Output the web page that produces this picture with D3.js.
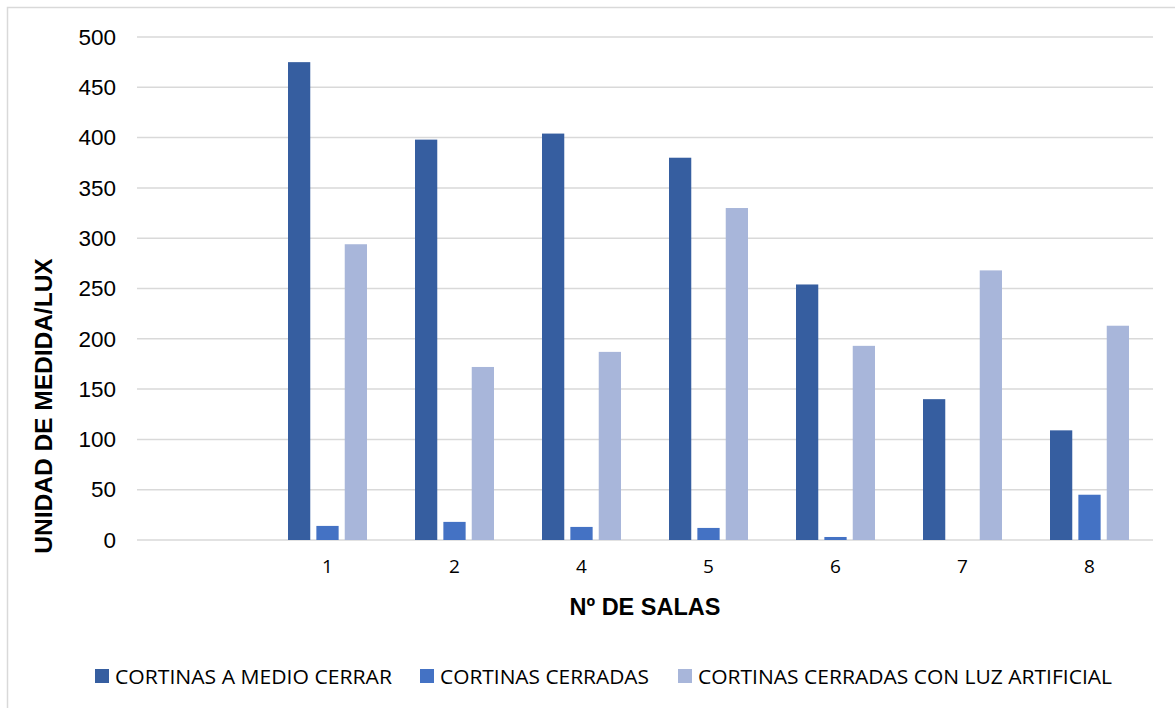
<!DOCTYPE html>
<html>
<head>
    <meta charset="utf-8">
    <title>Unidad de medida / lux por sala</title>
    <style>
        body {
            margin: 0;
            background: #fff;
        }
        svg text {
            fill: #000;
        }
    </style>
</head>
<body>
    <div id="chart"></div>

    <script src="https://d3js.org/d3.v7.min.js"></script>
    <script>
    // Chart data
    const salas = ["", "1", "2", "4", "5", "6", "7", "8"];
    const medioCerrar = [0, 475, 398, 404, 380, 254, 140, 109];
    const cerradas = [0, 14, 18, 13, 12, 3, 0, 45];
    const conLuz = [0, 294, 172, 187, 330, 193, 268, 213];
    const seriesNames = ["CORTINAS A MEDIO CERRAR", "CORTINAS CERRADAS", "CORTINAS CERRADAS CON LUZ ARTIFICIAL"];
    const yTicks = [0, 50, 100, 150, 200, 250, 300, 350, 400, 450, 500];

    const colors = ["#365ea0", "#4472c4", "#a8b6da"];
    const values = [medioCerrar, cerradas, conLuz];

    const W = 1175, H = 708;
    const plot = {left: 137, right: 1153, top: 37, bottom: 540};

    const svg = d3.select("#chart").append("svg")
        .attr("width", W)
        .attr("height", H);

    // chart frame
    svg.append("rect")
        .attr("x", 7.5).attr("y", 7.5)
        .attr("width", W).attr("height", H)
        .attr("fill", "none")
        .attr("stroke", "#d9d9d9")
        .attr("stroke-width", 1.5);

    const x0 = d3.scaleBand()
        .domain(salas.map((d, i) => i))
        .range([plot.left, plot.right]);

    const groupW = 79;
    const x1 = d3.scaleBand()
        .domain([0, 1, 2])
        .range([0, groupW])
        .paddingInner(0.215);

    const y = d3.scaleLinear()
        .domain([0, 500])
        .range([plot.bottom, plot.top]);

    // gridlines
    svg.append("g")
        .selectAll("line")
        .data(yTicks)
        .join("line")
        .attr("x1", plot.left)
        .attr("x2", plot.right)
        .attr("y1", d => y(d))
        .attr("y2", d => y(d))
        .attr("stroke", "#d9d9d9")
        .attr("stroke-width", 1.5);

    // y axis labels
    const yAxis = svg.append("g")
        .attr("transform", `translate(${plot.left - 21},0)`)
        .call(d3.axisLeft(y).tickValues(yTicks).tickSize(0).tickPadding(0));
    yAxis.select(".domain").remove();
    yAxis.selectAll("text")
        .attr("font-family", "Liberation Sans, Arial, sans-serif")
        .attr("font-size", 22.5)
        .attr("fill", "#000");

    // bars
    const groups = svg.append("g")
        .selectAll("g")
        .data(salas.map((s, i) => i))
        .join("g")
        .attr("transform", i => `translate(${x0(i) + (x0.bandwidth() - groupW) / 2},0)`);

    groups.selectAll("rect")
        .data(i => values.map((v, k) => ({k: k, v: v[i]})))
        .join("rect")
        .attr("x", d => x1(d.k))
        .attr("width", x1.bandwidth())
        .attr("y", d => y(d.v))
        .attr("height", d => y(0) - y(d.v))
        .attr("fill", d => colors[d.k]);

    // x axis labels
    const xAxis = svg.append("g")
        .attr("transform", `translate(0,${plot.bottom + 19})`)
        .call(d3.axisBottom(x0).tickFormat(i => salas[i]).tickSize(0).tickPadding(0));
    xAxis.select(".domain").remove();
    xAxis.selectAll("text")
        .attr("font-family", "Open Sans, sans-serif")
        .attr("font-size", 19)
        .attr("fill", "#000");

    // axis titles
    svg.append("text")
        .attr("x", (plot.left + plot.right) / 2)
        .attr("y", 615)
        .attr("text-anchor", "middle")
        .attr("font-family", "Liberation Sans, Arial, sans-serif")
        .attr("font-weight", "bold")
        .attr("font-size", 23.5)
        .text("Nº DE SALAS");

    svg.append("text")
        .attr("transform", "translate(52,406) rotate(-90)")
        .attr("text-anchor", "middle")
        .attr("font-family", "Liberation Sans, Arial, sans-serif")
        .attr("font-weight", "bold")
        .attr("font-size", 24.5)
        .text("UNIDAD DE MEDIDA/LUX");

    // legend
    const legendX = [95, 420, 678];
    const legendLen = [277, 209, 414];
    const legend = svg.append("g")
        .selectAll("g")
        .data(seriesNames)
        .join("g")
        .attr("transform", (d, i) => `translate(${legendX[i]},676)`);

    legend.append("rect")
        .attr("x", 0)
        .attr("y", -7)
        .attr("width", 14)
        .attr("height", 14)
        .attr("fill", (d, i) => colors[i]);

    legend.append("text")
        .attr("x", 20)
        .attr("y", 7.5)
        .attr("font-family", "Open Sans, sans-serif")
        .attr("font-size", 20)
        .attr("textLength", (d, i) => legendLen[i])
        .attr("lengthAdjust", "spacingAndGlyphs")
        .text(d => d);
    </script>
</body>
</html>
